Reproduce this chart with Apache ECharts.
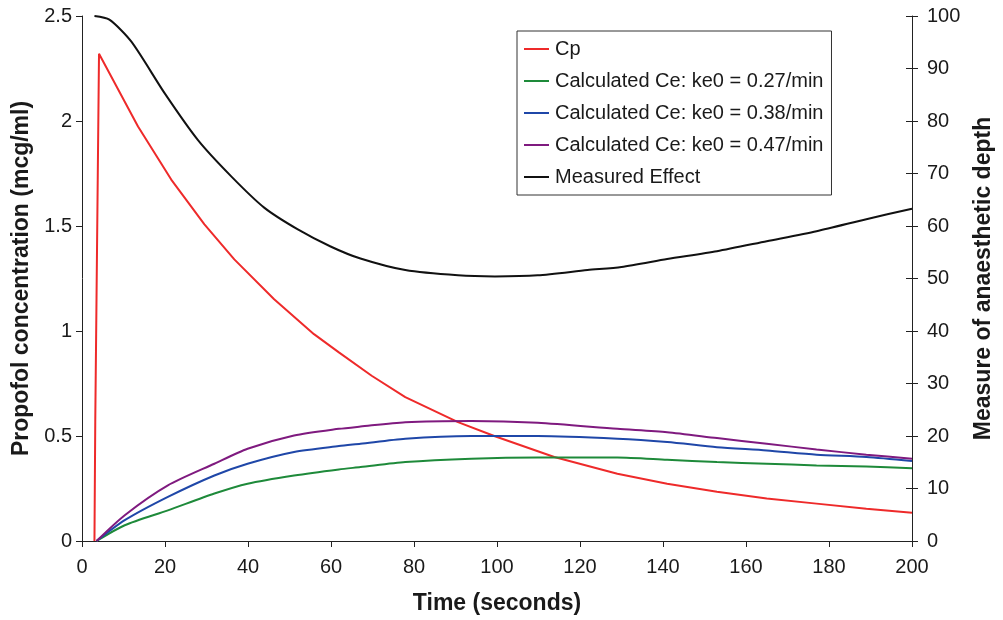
<!DOCTYPE html>
<html>
<head>
<meta charset="utf-8">
<script src="https://cdn.jsdelivr.net/npm/echarts@6/dist/echarts.min.js"></script>
<style>html,body{margin:0;padding:0;background:#fff;overflow:hidden;}#c{width:1003px;height:620px;}</style>
</head>
<body>
<div id="c"></div>
<script>
// Data
const seriesNames = ['Cp', 'Calculated Ce: ke0 = 0.27/min', 'Calculated Ce: ke0 = 0.38/min', 'Calculated Ce: ke0 = 0.47/min', 'Measured Effect'];

const cpTime   = [3, 3.2, 3.5, 3.8, 4.1, 13.5, 21.5, 29.5, 36.7, 46.3, 55.9, 61.9, 69.8, 77.9, 90.6, 99.5, 113.8, 129, 141, 153, 165, 177, 189, 200];
const cpValues = [0, 0.58, 1.16, 1.74, 2.32, 1.974, 1.721, 1.508, 1.341, 1.151, 0.985, 0.898, 0.787, 0.685, 0.566, 0.499, 0.400, 0.320, 0.273, 0.234, 0.202, 0.178, 0.154, 0.135];

const ceTime     = [3.5, 10.3, 20.7, 31.9, 39.9, 51.1, 61.9, 67.1, 77.9, 93.8, 109.8, 129, 141, 153, 165, 177, 189, 200];
const ce027Values = [0, 0.075, 0.146, 0.226, 0.273, 0.312, 0.341, 0.352, 0.376, 0.392, 0.398, 0.398, 0.387, 0.376, 0.368, 0.360, 0.355, 0.347];
const ce038Values = [0, 0.099, 0.210, 0.312, 0.368, 0.424, 0.452, 0.463, 0.487, 0.4995, 0.4995, 0.487, 0.471, 0.447, 0.431, 0.411, 0.400, 0.381];
const ce047Values = [0, 0.123, 0.265, 0.368, 0.439, 0.502, 0.534, 0.545, 0.566, 0.572, 0.563, 0.534, 0.518, 0.490, 0.463, 0.436, 0.411, 0.392];

const effectTime   = [3, 6.6, 11.9, 19.9, 27.9, 35.9, 43.9, 51.9, 59.9, 67.1, 77.9, 90.6, 99.5, 109.8, 121.8, 130, 141, 153, 165, 177, 189, 200];
const effectValues = [100, 99.3, 95.1, 85.3, 76.4, 69.5, 63.5, 59.4, 56.1, 53.8, 51.6, 50.6, 50.4, 50.6, 51.6, 52.2, 53.7, 55.2, 57.1, 59.0, 61.3, 63.3];

const xTicks = { min: 0, max: 200, interval: 20 };
const leftTicks = { min: 0, max: 2.5, interval: 0.5 };
const rightTicks = { min: 0, max: 100, interval: 10 };

const colors = ['#ee2a2a', '#1e8a3a', '#1f47a8', '#7f1a7f', '#111111'];

function pairs(xs, ys) { return xs.map((x, i) => [x, ys[i]]); }

const FONT = 'Liberation Sans, Arial, Helvetica, sans-serif';
const TXT = '#1a1a1a';

const chart = echarts.init(document.getElementById('c'), null, { renderer: 'canvas', width: 1003, height: 620 });

const mkSeries = (name, data, color, yIdx, smooth) => ({
  name, type: 'line', data, yAxisIndex: yIdx,
  showSymbol: false, symbol: 'none',
  smooth: smooth,
  lineStyle: { color, width: 2 }, itemStyle: { color },
  emphasis: { disabled: true }, animation: false
});

chart.setOption({
  animation: false,
  color: colors,
  textStyle: { fontFamily: FONT },
  grid: { left: 82, right: 87, top: 16, bottom: 78, containLabel: false },
  legend: {
    orient: 'vertical', left: 517, top: 31,
    padding: [8, 8, 8, 7],
    borderColor: '#333', borderWidth: 1, borderRadius: 0,
    backgroundColor: '#fff',
    itemWidth: 25, itemHeight: 2, itemGap: 12,
    icon: 'rect',
    textStyle: { fontSize: 20, color: TXT, fontFamily: FONT, lineHeight: 20, padding: [0, 0, 0, 1] },
    data: seriesNames
  },
  xAxis: {
    type: 'value', min: xTicks.min, max: xTicks.max, interval: xTicks.interval,
    name: 'Time (seconds)', nameLocation: 'middle', nameGap: 51,
    nameTextStyle: { fontSize: 23, fontWeight: 'bold', color: TXT, fontFamily: FONT },
    axisLine: { show: true, lineStyle: { color: '#222', width: 1 } },
    axisTick: { show: true, inside: false, length: 6, lineStyle: { color: '#222' } },
    axisLabel: { fontSize: 20, color: TXT, margin: 16, fontFamily: FONT },
    splitLine: { show: false }
  },
  yAxis: [
    {
      type: 'value', position: 'left', min: leftTicks.min, max: leftTicks.max, interval: leftTicks.interval,
      name: 'Propofol concentration (mcg/ml)', nameLocation: 'middle', nameGap: 48, nameRotate: 90,
      nameTextStyle: { fontSize: 23, fontWeight: 'bold', color: TXT, fontFamily: FONT },
      axisLine: { show: true, lineStyle: { color: '#222', width: 1 } },
      axisTick: { show: true, inside: false, length: 6, lineStyle: { color: '#222' } },
      axisLabel: { fontSize: 20, color: TXT, margin: 10, fontFamily: FONT },
      splitLine: { show: false }
    },
    {
      type: 'value', position: 'right', min: rightTicks.min, max: rightTicks.max, interval: rightTicks.interval,
      name: 'Measure of anaesthetic depth', nameLocation: 'middle', nameGap: 60, nameRotate: 90,
      nameTextStyle: { fontSize: 23, fontWeight: 'bold', color: TXT, fontFamily: FONT },
      axisLine: { show: true, lineStyle: { color: '#222', width: 1 } },
      axisTick: { show: true, inside: false, length: 6, lineStyle: { color: '#222' } },
      axisLabel: { fontSize: 20, color: TXT, margin: 15, fontFamily: FONT },
      splitLine: { show: false }
    },
    {
      type: 'value', position: 'right', min: rightTicks.min, max: rightTicks.max, interval: rightTicks.interval,
      axisLine: { show: false },
      axisTick: { show: true, inside: true, length: 6, lineStyle: { color: '#222' } },
      axisLabel: { show: false },
      splitLine: { show: false }
    }
  ],
  series: [
    mkSeries(seriesNames[0], pairs(cpTime, cpValues), colors[0], 0, false),
    mkSeries(seriesNames[1], pairs(ceTime, ce027Values), colors[1], 0, 0.25),
    mkSeries(seriesNames[2], pairs(ceTime, ce038Values), colors[2], 0, 0.25),
    mkSeries(seriesNames[3], pairs(ceTime, ce047Values), colors[3], 0, 0.25),
    mkSeries(seriesNames[4], pairs(effectTime, effectValues), colors[4], 1, 0.25)
  ]
});
</script>
</body>
</html>
